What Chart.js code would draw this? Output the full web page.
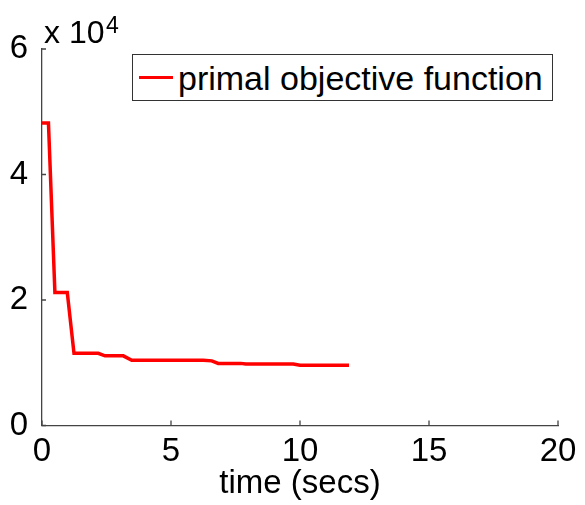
<!DOCTYPE html>
<html>
<head>
<meta charset="utf-8">
<script src="https://cdn.jsdelivr.net/npm/chart.js@4.4.0/dist/chart.umd.min.js"></script>
<style>
  html, body { margin: 0; padding: 0; background: #fff; }
  #wrap { position: relative; width: 585px; height: 505px; font-family: 'Liberation Sans', Arial, Helvetica, sans-serif; color: #000; }
  #legend { position: absolute; left: 132px; top: 54px; width: 421px; height: 47px; border: 1.5px solid #333; box-sizing: border-box; background: #fff; display: flex; align-items: center; }
  #legend .swatch { display: inline-block; width: 34px; height: 3.5px; margin-left: 6px; margin-right: 5px; }
  #legend .text { font-size: 34px; line-height: 1; white-space: nowrap; }
  #expo { position: absolute; left: 44px; top: 16px; font-size: 32px; line-height: 1; white-space: nowrap; }
  #expo sup { position: absolute; left: 62px; top: -2px; font-size: 23px; line-height: 1; }
</style>
</head>
<body>
<div id="wrap">
  <canvas id="chart" width="585" height="505"></canvas>
  <div id="expo">x 10<sup>4</sup></div>
  <div id="legend"></div>
</div>
<script>
// values (time in secs, objective in units of 1e4)
const times = [0, 0.25, 0.5, 0.98, 1.24, 2.18, 2.44, 3.15, 3.48, 6.25, 6.58, 6.83, 7.7, 7.9, 9.74, 10.0, 11.9];
const objective = [4.82, 4.82, 2.12, 2.12, 1.15, 1.15, 1.11, 1.11, 1.04, 1.04, 1.03, 0.99, 0.99, 0.98, 0.98, 0.96, 0.96];
const seriesLabel = 'primal objective function';
const xTicks = [0, 5, 10, 15, 20];
const yTicks = [0, 2, 4, 6];
const yScaleFactor = 1e4;

const tickFont = { family: "'Liberation Sans', Arial, Helvetica, sans-serif", size: 33 };
const axisColor = '#444';

// draw short inward tick marks like the original figure
const inwardTicks = {
  id: 'inwardTicks',
  afterDraw(chart) {
    const ctx = chart.ctx;
    const xs = chart.scales.x, ys = chart.scales.y;
    const area = chart.chartArea;
    ctx.save();
    ctx.strokeStyle = axisColor;
    ctx.lineWidth = 1.3;
    ctx.beginPath();
    xTicks.forEach(v => {
      const px = xs.getPixelForValue(v);
      ctx.moveTo(px, area.bottom);
      ctx.lineTo(px, area.bottom - 5);
    });
    yTicks.forEach(v => {
      const py = ys.getPixelForValue(v * yScaleFactor);
      ctx.moveTo(area.left, py);
      ctx.lineTo(area.left + 4, py);
    });
    ctx.stroke();
    ctx.restore();
  }
};

// html legend built from the dataset
const htmlLegend = {
  id: 'htmlLegend',
  afterUpdate(chart) {
    const box = document.getElementById('legend');
    box.innerHTML = '';
    chart.data.datasets.forEach(ds => {
      const sw = document.createElement('span');
      sw.className = 'swatch';
      sw.style.background = ds.borderColor;
      const tx = document.createElement('span');
      tx.className = 'text';
      tx.textContent = ds.label;
      box.appendChild(sw);
      box.appendChild(tx);
    });
  }
};

const ctx = document.getElementById('chart').getContext('2d');
new Chart(ctx, {
  type: 'line',
  data: {
    datasets: [{
      label: seriesLabel,
      data: times.map((t, i) => ({ x: t, y: objective[i] * yScaleFactor })),
      borderColor: '#ff0000',
      backgroundColor: '#ff0000',
      borderWidth: 3.5,
      pointRadius: 0,
      tension: 0,
      fill: false
    }]
  },
  options: {
    responsive: false,
    animation: false,
    layout: { padding: { top: 49, right: 27, left: 0, bottom: 0 } },
    plugins: {
      legend: { display: false },
      tooltip: { enabled: false }
    },
    scales: {
      x: {
        type: 'linear',
        min: 0,
        max: 20,
        afterBuildTicks: s => { s.ticks = xTicks.map(v => ({ value: v })); },
        ticks: { font: tickFont, color: '#000', padding: -1, maxRotation: 0 },
        grid: { display: false },
        border: { display: true, color: axisColor, width: 1.3 },
        title: { display: true, text: 'time (secs)', font: tickFont, color: '#000', padding: { top: 0, bottom: 1 } },
        afterFit: s => { s.height = 79.5; }
      },
      y: {
        min: 0,
        max: 6 * yScaleFactor,
        afterBuildTicks: s => { s.ticks = yTicks.map(v => ({ value: v * yScaleFactor })); },
        ticks: { font: tickFont, color: '#000', padding: 6, callback: v => String(v / yScaleFactor) },
        grid: { display: false },
        border: { display: true, color: axisColor, width: 1.3 },
        afterFit: s => { s.width = 42; }
      }
    }
  },
  plugins: [inwardTicks, htmlLegend]
});
</script>
</body>
</html>
